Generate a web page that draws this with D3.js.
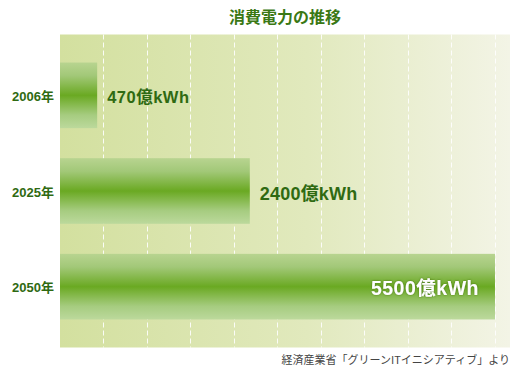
<!DOCTYPE html>
<html><head><meta charset="utf-8">
<script src="https://cdn.jsdelivr.net/npm/d3@7"></script>
<style>
html,body{margin:0;padding:0;background:#fff;}
svg{display:block;font-family:"Liberation Sans",Arial,"Noto Sans CJK JP",sans-serif;}
</style></head>
<body>
<script>
const title = "消費電力の推移";
const years = ["2006年", "2025年", "2050年"];
const values = [470, 2400, 5500];
const valueLabels = ["470億kWh", "2400億kWh", "5500億kWh"];
const gridValues = [550, 1100, 1650, 2200, 2750, 3300, 3850, 4400, 4950, 5500];
const source = "経済産業省「グリーンITイニシアティブ」より";

(function () {
const W = 525, H = 375;
const svg = d3.select("body").append("svg").attr("width", W).attr("height", H);
const defs = svg.append("defs");

const bg = defs.append("linearGradient").attr("id", "bg").attr("x1", 0).attr("x2", 1).attr("y1", 0).attr("y2", 0);
bg.append("stop").attr("offset", "0%").attr("stop-color", "#d3e09f");
bg.append("stop").attr("offset", "55%").attr("stop-color", "#e1e9bd");
bg.append("stop").attr("offset", "100%").attr("stop-color", "#f3f4e6");

const bar = defs.append("linearGradient").attr("id", "bar").attr("x1", 0).attr("x2", 0).attr("y1", 0).attr("y2", 1);
bar.append("stop").attr("offset", "0%").attr("stop-color", "#b8d490");
bar.append("stop").attr("offset", "20%").attr("stop-color", "#a2c878");
bar.append("stop").attr("offset", "50%").attr("stop-color", "#6aa922");
bar.append("stop").attr("offset", "80%").attr("stop-color", "#a6cc80");
bar.append("stop").attr("offset", "100%").attr("stop-color", "#bcd99c");

const shadow = defs.append("filter").attr("id", "sh").attr("x", "-10%").attr("y", "-20%").attr("width", "120%").attr("height", "140%");
shadow.append("feDropShadow").attr("dx", 0).attr("dy", 0).attr("stdDeviation", 1.2).attr("flood-color", "#3d6a10").attr("flood-opacity", 0.8);

const pl = 60, pr = 510, pt = 34.5, pb = 347.5;
const x = d3.scaleLinear().domain([0, 5690]).range([pl, pr]);
const y = d3.scaleBand().domain(years).range([pt, pb]).paddingInner(0.314).paddingOuter(0.293);

svg.append("rect").attr("x", pl).attr("y", pt).attr("width", pr - pl).attr("height", pb - pt).attr("fill", "url(#bg)");

svg.append("g").selectAll("line").data(gridValues).join("line")
  .attr("x1", d => Math.round(x(d)) + 0.5).attr("x2", d => Math.round(x(d)) + 0.5)
  .attr("y1", pt).attr("y2", pb)
  .attr("stroke", "#ffffff").attr("stroke-width", 1).attr("stroke-dasharray", "5,3").attr("opacity", 0.9);

const data = years.map((yr, i) => ({ yr, v: values[i], lab: valueLabels[i] }));

svg.append("g").selectAll("rect").data(data).join("rect")
  .attr("x", x(0)).attr("y", d => y(d.yr))
  .attr("width", d => x(d.v) - x(0)).attr("height", y.bandwidth())
  .attr("fill", "url(#bar)");

svg.append("g").selectAll("text").data(data).join("text")
  .attr("x", 54).attr("y", d => y(d.yr) + y.bandwidth() / 2 + 5.5)
  .attr("text-anchor", "end").attr("font-size", 13).attr("font-weight", "bold")
  .attr("fill", "#2f6a12").text(d => d.yr);

const labSizes = [16.5, 18, 19.5];
const labSpacing = [0.5, 0.2, 0.5];
const labDy = [7.8, 8.5, 8.3];
svg.append("g").selectAll("text").data(data).join("text")
  .attr("x", (d, i) => i === 2 ? x(d.v) - 16 : x(d.v) + 10)
  .attr("y", (d, i) => y(d.yr) + y.bandwidth() / 2 + labDy[i])
  .attr("text-anchor", (d, i) => i === 2 ? "end" : "start")
  .attr("font-size", (d, i) => labSizes[i]).attr("font-weight", "bold")
  .attr("letter-spacing", (d, i) => labSpacing[i])
  .attr("fill", (d, i) => i === 2 ? "#ffffff" : "#2f6a12")
  .attr("filter", (d, i) => i === 2 ? "url(#sh)" : null)
  .text(d => d.lab);

svg.append("text").attr("x", 285).attr("y", 23).attr("text-anchor", "middle")
  .attr("font-size", 16).attr("font-weight", "bold").attr("fill", "#3a7814")
  .attr("font-family", "'Noto Sans CJK JP',sans-serif").text(title);

svg.append("text").attr("x", 510).attr("y", 364).attr("text-anchor", "end")
  .attr("font-size", 11).attr("fill", "#444444")
  .attr("font-family", "'Noto Sans CJK JP',sans-serif").text(source);
})();
</script>
</body></html>
